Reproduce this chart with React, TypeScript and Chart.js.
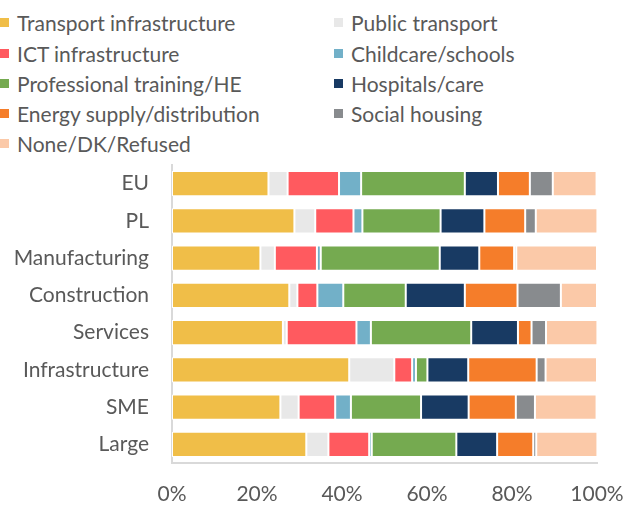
import React, { useEffect, useRef } from "react";
import { Chart, registerables } from "chart.js";

Chart.register(...registerables);

const categories = ["EU", "PL", "Manufacturing", "Construction", "Services", "Infrastructure", "SME", "Large"];

const transport = [22.7, 28.8, 20.8, 27.6, 26.1, 41.7, 25.5, 31.6];
const publicTransport = [4.5, 4.9, 3.4, 1.9, 0.9, 10.6, 4.3, 5.2];
const ict = [12.1, 9.0, 9.9, 4.7, 16.4, 4.2, 8.6, 9.6];
const childcare = [5.2, 2.1, 0.9, 6.1, 3.4, 0.9, 3.7, 0.6];
const training = [24.4, 18.4, 28.0, 14.7, 23.6, 2.7, 16.5, 19.9];
const hospitals = [7.8, 10.3, 9.3, 13.9, 11.0, 9.6, 11.2, 9.6];
const energy = [7.5, 9.6, 8.2, 12.4, 3.2, 16.1, 11.1, 8.5];
const social = [5.4, 2.5, 0.5, 10.2, 3.4, 2.1, 4.5, 0.7];
const none = [10.3, 14.5, 19.0, 8.5, 12.1, 12.1, 14.5, 14.4];

const seriesNames = [
  "Transport infrastructure",
  "Public transport",
  "ICT infrastructure",
  "Childcare/schools",
  "Professional training/HE",
  "Hospitals/care",
  "Energy supply/distribution",
  "Social housing",
  "None/DK/Refused",
];
const seriesValues = [transport, publicTransport, ict, childcare, training, hospitals, energy, social, none];
const seriesColors = ["#F0BE48", "#E8E8E8", "#FF5A5F", "#72B0C8", "#75AA50", "#183A63", "#F57D2A", "#888B8E", "#FBC9A8"];

const legendLeft = [0, 2, 4, 6, 8];
const legendRight = [1, 3, 5, 7];

const FONT = "Lato, 'Open Sans', sans-serif";
const FONT_SIZE = 21;
const TEXT = "#595959";

export default function App() {
  const ref = useRef<HTMLCanvasElement | null>(null);

  useEffect(() => {
    if (!ref.current) return;
    const chart = new Chart(ref.current, {
      type: "bar",
      data: {
        labels: categories,
        datasets: seriesNames.map((name, i) => ({
          label: name,
          data: seriesValues[i],
          backgroundColor: seriesColors[i],
          borderColor: "#FFFFFF",
          borderWidth: 1,
          borderSkipped: false,
          barPercentage: 0.68,
          categoryPercentage: 1,
        })),
      },
      options: {
        indexAxis: "y",
        animation: false,
        responsive: false,
        maintainAspectRatio: false,
        layout: { padding: { top: 165, right: 29, bottom: 0, left: 0 } },
        plugins: {
          legend: { display: false },
          tooltip: { enabled: false },
        },
        scales: {
          x: {
            stacked: true,
            min: 0,
            max: 100,
            grid: { display: false, drawTicks: false },
            border: { display: true, color: "#D9D9D9", width: 2 },
            ticks: {
              stepSize: 20,
              padding: 19,
              maxRotation: 0,
              color: TEXT,
              font: { family: FONT, size: FONT_SIZE },
              callback: (v: any) => v + "%",
            },
            afterFit: (scale: any) => {
              scale.height = 42;
              scale.paddingLeft = 0;
              scale.paddingRight = 0;
            },
          },
          y: {
            stacked: true,
            grid: { display: false, drawTicks: false },
            border: { display: true, color: "#D9D9D9", width: 2 },
            ticks: {
              padding: 23,
              color: TEXT,
              font: { family: FONT, size: FONT_SIZE },
            },
            afterFit: (scale: any) => {
              scale.width = 172;
              scale.paddingTop = 0;
              scale.paddingBottom = 0;
            },
          },
        },
      },
    });
    return () => chart.destroy();
  }, []);

  const legendItem = (idx: number, row: number, x: number) => (
    <div
      key={idx}
      style={{
        position: "absolute",
        left: x,
        top: 22.7 + row * 30.3 - 13,
        height: 26,
        display: "flex",
        alignItems: "center",
        whiteSpace: "nowrap",
        fontFamily: FONT,
        fontSize: FONT_SIZE,
        color: TEXT,
      }}
    >
      <span style={{ display: "inline-block", width: 9, height: 9, background: seriesColors[idx], marginRight: 8, flex: "none" }} />
      <span>{seriesNames[idx]}</span>
    </div>
  );

  return (
    <div style={{ position: "absolute", left: 0, top: 0, width: 626, height: 505, background: "#fff" }}>
      {legendLeft.map((idx, r) => legendItem(idx, r, 0))}
      {legendRight.map((idx, r) => legendItem(idx, r, 334))}
      <canvas ref={ref} width={626} height={505} style={{ position: "absolute", left: 0, top: 0 }} />
    </div>
  );
}
